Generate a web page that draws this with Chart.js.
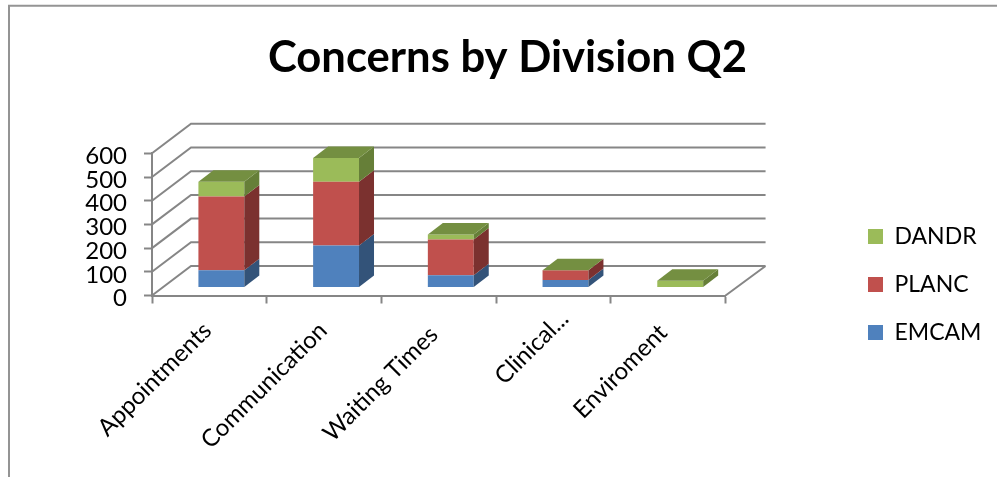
<!DOCTYPE html>
<html>
<head>
<meta charset="utf-8">
<style>html,body{margin:0;padding:0;background:#fff}#w{width:997px;height:477px;position:relative}</style>
<script src="https://cdn.jsdelivr.net/npm/chart.js@4/dist/chart.umd.min.js"></script>
</head>
<body>
<div id="w"><canvas id="c" width="997" height="477"></canvas></div>
<script>
const categories = ['Appointments', 'Communication', 'Waiting Times', 'Clinical...', 'Enviroment'];
const EMCAM = [73, 177, 52, 32, 0];
const PLANC = [311, 269, 151, 41, 0];
const DANDR = [62, 100, 21, 0, 28];
const yTicks = [0, 100, 200, 300, 400, 500, 600];
const title = 'Concerns by Division Q2';

const GRID = '#868686';
const FONT = 'Lato, "Open Sans", sans-serif';
const faces = [
  {front: '#4F81BD', side: '#335379', top: '#3F6797'},
  {front: '#C0504D', side: '#7B312F', top: '#9A403E'},
  {front: '#9BBB59', side: '#667F38', top: '#748F41'}
];
const WALL = {dx: 39, dy: 29.5};     // floor depth
const BAR_SHIFT = {dx: 12, dy: 8};   // bars stand part way into the floor
const BAR_DEPTH = {dx: 15, dy: 11.5};
const LABEL_NUDGE = [[-2, 5], [-1, 5], [-5, 9], [11, -7], [-5, 7]];

const depthPlugin = {
  id: 'depth',
  afterUpdate(chart) {
    const l = chart.legend;
    const shiftY = 284.5 - (l.top + l.bottom) / 2;
    l.top += shiftY; l.bottom += shiftY;
    const shiftX = 843 - l.left;
    l.left += shiftX; l.right += shiftX;
    l.adjustHitBoxes();
    const t = chart.titleBlock;
    t.left = 0; t.right = 1015;
    chart.scales.x.getLabelItems().forEach((item, i) => {
      item.options.translation = [
        item.options.translation[0] + LABEL_NUDGE[i][0],
        item.options.translation[1] + LABEL_NUDGE[i][1]
      ];
    });
  },
  beforeDraw(chart) {
    const c = chart.ctx;
    c.save();
    c.fillStyle = '#fff';
    c.fillRect(0, 0, chart.width, chart.height);
    c.strokeStyle = '#949494';
    c.lineWidth = 2;
    c.beginPath();
    c.moveTo(9, 477); c.lineTo(9, 5.7); c.lineTo(997, 5.7);
    c.stroke();
    c.restore();
  },
  beforeDatasetsDraw(chart) {
    const c = chart.ctx, y = chart.scales.y, x = chart.scales.x;
    c.save();
    c.strokeStyle = GRID;
    c.lineWidth = 2;
    c.beginPath();
    yTicks.forEach(v => {
      const p = y.getPixelForValue(v);
      c.moveTo(x.left, p);
      c.lineTo(x.left + WALL.dx, p - WALL.dy);
      c.lineTo(x.right + WALL.dx + 1, p - WALL.dy);
    });
    const b = y.getPixelForValue(0);
    c.moveTo(x.right, b);
    c.lineTo(x.right + WALL.dx + 1, b - WALL.dy);
    c.stroke();
    c.restore();
    c.save();
    c.translate(BAR_SHIFT.dx, -BAR_SHIFT.dy);
  },
  afterDatasetsDraw(chart) {
    const c = chart.ctx;
    const poly = (pts, fill) => {
      c.fillStyle = fill;
      c.beginPath();
      pts.forEach((p, i) => i ? c.lineTo(p[0], p[1]) : c.moveTo(p[0], p[1]));
      c.closePath();
      c.fill();
    };
    const {dx, dy} = BAR_DEPTH;
    chart.data.datasets.forEach((ds, d) => {
      chart.getDatasetMeta(d).data.forEach((bar, i) => {
        const r = bar.x + bar.width / 2, l = bar.x - bar.width / 2;
        const top = Math.min(bar.y, bar.base), base = Math.max(bar.y, bar.base);
        if (base > top) {
          poly([[r, top], [r + dx, top - dy], [r + dx, base - dy], [r, base]], faces[d].side);
        }
        if (d === chart.data.datasets.length - 1) {
          poly([[l, top], [l + dx, top - dy], [r + dx, top - dy], [r, top]], faces[d].top);
        }
      });
    });
    c.restore();
  }
};

new Chart(document.getElementById('c'), {
  type: 'bar',
  data: {
    labels: categories,
    datasets: [
      {label: 'EMCAM', data: EMCAM, backgroundColor: faces[0].front},
      {label: 'PLANC', data: PLANC, backgroundColor: faces[1].front},
      {label: 'DANDR', data: DANDR, backgroundColor: faces[2].front}
    ]
  },
  plugins: [depthPlugin],
  options: {
    responsive: false,
    animation: false,
    devicePixelRatio: 1,
    clip: false,
    barPercentage: 0.4,
    categoryPercentage: 1,
    layout: {padding: {left: 0, top: 32, right: 123, bottom: 0}},
    plugins: {
      tooltip: {enabled: false},
      title: {
        display: true,
        text: title,
        color: '#000',
        padding: {top: 0, bottom: 69},
        font: {family: FONT, size: 43.6, weight: 'bold', lineHeight: 1.2}
      },
      legend: {
        display: true,
        position: 'right',
        reverse: true,
        labels: {
          boxWidth: 15,
          boxHeight: 15,
          padding: 25,
          color: '#000',
          font: {family: FONT, size: 23}
        }
      }
    },
    scales: {
      x: {
        stacked: true,
        afterFit(s) { s.height = 477 - 295.5; },
        grid: {drawOnChartArea: false, drawTicks: true, tickLength: 8, tickColor: GRID, tickWidth: 2},
        border: {display: true, color: GRID, width: 2},
        ticks: {color: '#000', minRotation: 45, maxRotation: 45, autoSkip: false, padding: 8,
                font: {family: FONT, size: 24}}
      },
      y: {
        stacked: true,
        min: 0, max: 600,
        afterFit(s) { s.width = 152; },
        afterBuildTicks(s) { s.ticks = yTicks.map(v => ({value: v})); },
        grid: {drawOnChartArea: false, drawTicks: true, tickLength: 8, tickColor: GRID, tickWidth: 2},
        border: {display: true, color: GRID, width: 2},
        ticks: {color: '#000', padding: 17, autoSkip: false, labelOffset: 3, font: {family: FONT, size: 24}}
      }
    }
  }
});
</script>
</body>
</html>
